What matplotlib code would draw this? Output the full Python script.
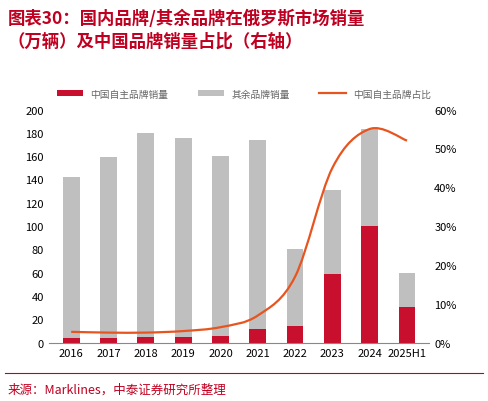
import matplotlib
matplotlib.use('Agg')
import matplotlib.pyplot as plt
import numpy as np
from matplotlib.path import Path
from matplotlib.patches import PathPatch
plt.rcParams['font.family'] = ['Noto Sans CJK SC', 'DejaVu Sans']

years = ['2016','2017','2018','2019','2020','2021','2022','2023','2024','2025H1']
cn = [4,4,5,5,6,12,14,59,100,31]
other = [138,155,175,171,154,162,66,72,83,29]
share = [2.8,2.6,2.6,3.0,4.0,7.0,17.0,45.0,55.0,52.0]

fig = plt.figure(figsize=(4.88,4.02), dpi=100)
fig.text(0.015,0.975,'图表30：国内品牌/其余品牌在俄罗斯市场销量\n（万辆）及中国品牌销量占比（右轴）',
         fontsize=12.5, color='#c00020', fontweight='bold', va='top', style='italic', linespacing=1.3)
fig.text(0.015,0.02,'来源：Marklines，中泰证券研究所整理', fontsize=9, color='#c00020')
fig.add_artist(plt.Line2D([0.01,0.99],[0.07,0.07],color='#c00020',lw=0.8))

ax = fig.add_axes([0.1,0.145,0.78,0.58])
x = np.arange(len(years))
ax.bar(x, cn, 0.45, color='#c8102e', label='中国自主品牌销量')
ax.bar(x, other, 0.45, bottom=cn, color='#bfbfbf', label='其余品牌销量')
ax.set_ylim(0,200); ax.set_yticks(range(0,201,20))
ax.set_xlim(-0.6,9.6)
ax.set_xticks(x); ax.set_xticklabels(years)
ax.tick_params(labelsize=8, length=0)
for s in ['top','right','left']: ax.spines[s].set_visible(False)
ax.spines['bottom'].set_color('#888')
ax2 = ax.twinx()
ax2.set_ylim(0,60); ax2.set_yticks(range(0,61,10))
ax2.set_yticklabels([f'{v}%' for v in range(0,61,10)])
ax2.tick_params(labelsize=8, length=0)
for s in ['top','right','left','bottom']: ax2.spines[s].set_visible(False)
# smooth line via cubic Bezier (Catmull-Rom)
pts = np.column_stack([x, share])
verts=[pts[0]]; codes=[Path.MOVETO]
for i in range(len(pts)-1):
    p0=pts[max(i-1,0)]; p1=pts[i]; p2=pts[i+1]; p3=pts[min(i+2,len(pts)-1)]
    verts += [p1+(p2-p0)/6, p2-(p3-p1)/6, p2]; codes += [Path.CURVE4]*3
ax2.add_patch(PathPatch(Path(verts,codes), fill=False, edgecolor='#e8541e', lw=1.6))
ax2.plot([],[],color='#e8541e',lw=1.6,label='中国自主品牌占比')
h1,l1=ax.get_legend_handles_labels(); h2,l2=ax2.get_legend_handles_labels()
fig.legend(h1+h2,l1+l2,loc='center',bbox_to_anchor=(0.5,0.765),ncol=3,frameon=False,
           fontsize=7,labelcolor='#666',handlelength=2.7,handleheight=0.5,columnspacing=3)
fig.savefig('out.png', dpi=100)
